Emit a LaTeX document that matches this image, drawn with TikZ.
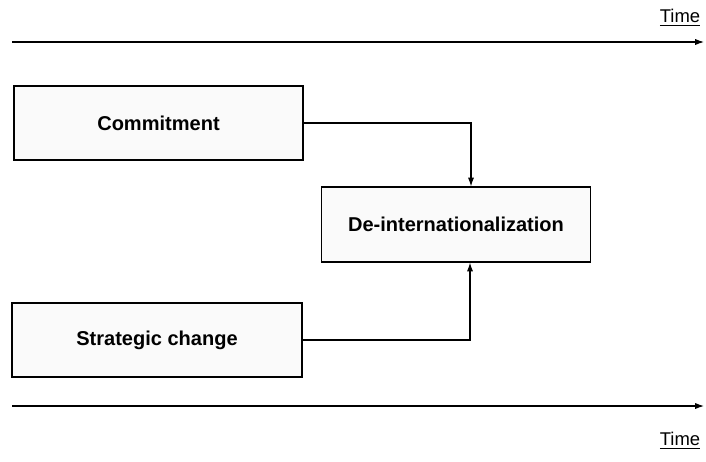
\documentclass[tikz,border=0pt]{standalone}
\usepackage{fontspec}
\setmainfont{Liberation Sans}
\usetikzlibrary{arrows.meta}
\begin{document}
\begin{tikzpicture}[x=0.02cm, y=-0.02cm, >={Latex[length=5pt,width=3.5pt]}, line width=0.6pt]
    \useasboundingbox (0,0) rectangle (706,461);
    \tikzset{factor/.style={draw, fill=gray!4, line width=0.7pt, font=\bfseries\fontsize{11.4}{13}\selectfont, inner sep=0pt}}

    \node[factor, minimum width=289*0.02cm, minimum height=74*0.02cm] at (158.5,123)(commit){Commitment};
    \node[factor, minimum width=290*0.02cm, minimum height=74*0.02cm] at (157,340)(strat){Strategic change};
    \node[factor, minimum width=269*0.02cm, minimum height=75*0.02cm] at (456,224.5)(deint){De-internationalization};

    \node[font=\fontsize{10.5}{12}\selectfont] at (680,18)(timetop){\underline{Time}};
    \node[font=\fontsize{10.5}{12}\selectfont] at (680,441)(timebot){\underline{Time}};

    \coordinate (topstart) at (12,42);
    \coordinate (topend) at (704,42);
    \coordinate (botstart) at (12,406);
    \coordinate (botend) at (704,406);

    \draw[->](topstart) -- (topend);
    \draw[->](botstart) -- (botend);
    \draw[->](commit.east) -| ([xshift=0.3cm]deint.north);
    \draw[->](strat.east) -| ([xshift=0.28cm]deint.south);
\end{tikzpicture}
\end{document}
